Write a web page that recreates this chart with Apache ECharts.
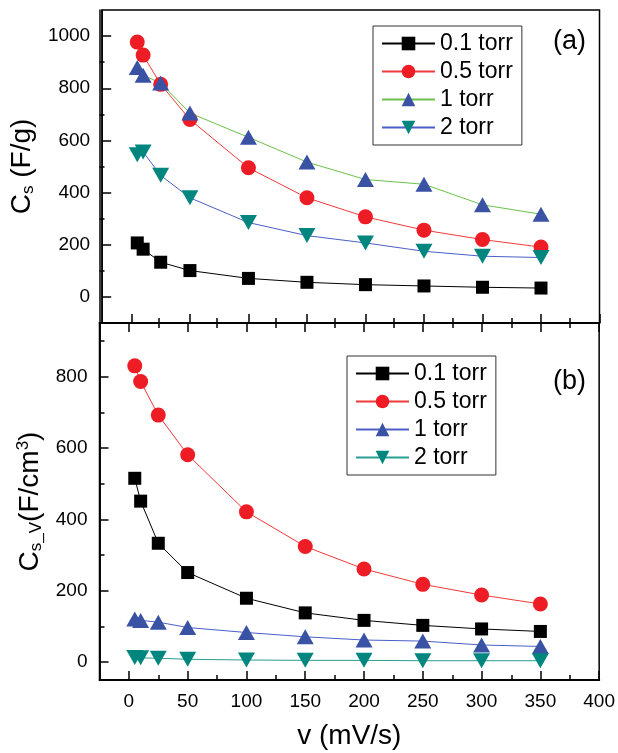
<!DOCTYPE html>
<html>
<head>
<meta charset="utf-8">
<script src="https://cdn.jsdelivr.net/npm/echarts@6/dist/echarts.min.js"></script>
<style>
body { margin: 0; background: #fff; }
#chart { width: 618px; height: 753px; }
</style>
</head>
<body>
<div id="chart"></div>
<script>
// scan rate (mV/s)
var rates = [5, 10, 25, 50, 100, 150, 200, 250, 300, 350];
// (a) gravimetric capacitance C_s (F/g)
var cs01 = [207, 183, 133, 101, 71, 56, 47, 42, 37, 34];
var cs05 = [977, 927, 815, 680, 495, 380, 307, 256, 220, 191];
var cs1 = [880, 850, 820, 705, 612, 517, 450, 432, 353, 317];
var cs2 = [545, 556, 466, 380, 285, 235, 207, 175, 156, 151];
// (b) volumetric capacitance C_s_V (F/cm3)
var cv01 = [515, 451, 333, 251, 179, 138, 117, 103, 93, 86];
var cv05 = [830, 786, 692, 581, 421, 324, 261, 218, 188, 163];
var cv1 = [121, 117, 112, 97, 83, 71, 62, 59, 48, 44];
var cv2 = [13, 12, 11, 8, 6, 5, 5, 4, 4, 4];

var names = ['0.1 torr', '0.5 torr', '1 torr', '2 torr'];
var xMajor = [0, 50, 100, 150, 200, 250, 300, 350, 400];
var xMinor = [25, 75, 125, 175, 225, 275, 325, 375];
var yaMajor = [0, 200, 400, 600, 800, 1000];
var yaMinor = [100, 300, 500, 700, 900];
var ybMajor = [0, 200, 400, 600, 800];
var ybMinor = [100, 300, 500, 700, 900];

var FONT = 'Liberation Sans, Arial, sans-serif';

function pairs(ys) {
  return rates.map(function (x, i) { return [x, ys[i]]; });
}

// one axis per side per grid; minor ticks live in twin grids on the same rect
function axis(grid, pos, min, max, ticks, len, labels, extra) {
  var ax = {
    type: 'value', gridIndex: grid, position: pos, min: min, max: max,
    axisLine: { show: true, onZero: false, lineStyle: { color: '#000', width: 1.5 } },
    axisTick: { show: true, inside: true, length: len, customValues: ticks,
      lineStyle: { color: '#000', width: 1.5 } },
    axisLabel: { show: labels, customValues: ticks, margin: 12,
      formatter: function (v) { return String(v); },
      color: '#000', fontSize: 19, fontFamily: FONT },
    splitLine: { show: false }
  };
  return Object.assign(ax, extra || {});
}

function line(name, data, xi, yi, symbol, size, fill, lineColor, rotate) {
  return {
    name: name, type: 'line', xAxisIndex: xi, yAxisIndex: yi,
    data: pairs(data), symbol: symbol, symbolSize: size, symbolRotate: rotate || 0,
    showAllSymbol: true,
    itemStyle: { color: fill, borderWidth: 0 },
    lineStyle: { color: lineColor, width: 1 },
    emphasis: { disabled: true }, animation: false
  };
}

var titleRich = {
  c: { fontSize: 28, fontFamily: FONT, color: '#000', lineHeight: 30 },
  s: { fontSize: 17, fontFamily: FONT, color: '#000', verticalAlign: 'bottom', lineHeight: 16 },
  p: { fontSize: 17, fontFamily: FONT, color: '#000', verticalAlign: 'top', lineHeight: 16 }
};

var legendBase = {
  orient: 'vertical', itemWidth: 53, itemHeight: 17, itemGap: 5,
  padding: [6, 9, 6, 8], borderColor: '#333', borderWidth: 1, backgroundColor: '#fff',
  textStyle: { fontSize: 23, fontFamily: FONT, color: '#000' },
  selectedMode: false
};

var gridA = { left: 99.5, top: 10, width: 500, height: 313 };
var gridB = { left: 99.5, top: 323, width: 500, height: 357 };

var chart = echarts.init(document.getElementById('chart'));
chart.setOption({
  backgroundColor: '#fff',
  animation: false,
  title: [
    { text: '(a)', left: 553, top: 28, padding: 0,
      textStyle: { fontSize: 27, fontWeight: 'normal', fontFamily: FONT, color: '#000' } },
    { text: '(b)', left: 553, top: 368, padding: 0,
      textStyle: { fontSize: 27, fontWeight: 'normal', fontFamily: FONT, color: '#000' } }
  ],
  grid: [
    Object.assign({ show: true, borderColor: '#000', borderWidth: 1.5 }, gridA),
    Object.assign({ show: true, borderColor: '#000', borderWidth: 1.5 }, gridB),
    Object.assign({}, gridA),
    Object.assign({}, gridB)
  ],
  legend: [
    Object.assign({ left: 373, top: 26, data: names }, legendBase),
    Object.assign({ left: 347, top: 356, data: names.map(function (n) { return n + '\u200b'; }) }, legendBase)
  ],
  xAxis: [
    axis(0, 'bottom', -25, 400, xMajor, 9, false),
    axis(1, 'bottom', -25, 400, xMajor, 9, true, {
      name: 'v (mV/s)', nameLocation: 'middle', nameGap: 42,
      nameTextStyle: { fontSize: 28, fontFamily: FONT, color: '#000' }
    }),
    axis(1, 'top', -25, 400, xMajor, 9, false),
    axis(2, 'bottom', -25, 400, xMinor, 5, false),
    axis(3, 'bottom', -25, 400, xMinor, 5, false),
    axis(3, 'top', -25, 400, xMinor, 5, false)
  ],
  yAxis: [
    axis(0, 'left', -100, 1100, yaMajor, 9, true, {
      name: '{c|C}{s|s}{c| (F/g)}', nameLocation: 'middle', nameGap: 50, nameRotate: 90,
      nameTextStyle: { rich: titleRich }
    }),
    axis(1, 'left', -50, 950, ybMajor, 9, true, {
      name: '{c|C}{s|s_V}{c|(F/cm}{p|3}{c|)}', nameLocation: 'middle', nameGap: 54, nameRotate: 90,
      nameTextStyle: { rich: titleRich }
    }),
    axis(2, 'left', -100, 1100, yaMinor, 5, false),
    axis(3, 'left', -50, 950, ybMinor, 5, false)
  ],
  series: [
    line(names[0], cs01, 0, 0, 'rect', 13, '#000', '#000'),
    line(names[1], cs05, 0, 0, 'circle', 15, '#ee1c25', '#f03a3a'),
    line(names[2], cs1, 0, 0, 'triangle', [17, 15], '#3a52a4', '#6cc04a'),
    line(names[3], cs2, 0, 0, 'triangle', [17, 15], '#00857f', '#4b5fc8', 180),
    line(names[0] + '\u200b', cv01, 1, 1, 'rect', 13, '#000', '#000'),
    line(names[1] + '\u200b', cv05, 1, 1, 'circle', 15, '#ee1c25', '#f03a3a'),
    line(names[2] + '\u200b', cv1, 1, 1, 'triangle', [17, 15], '#3a52a4', '#4b5fc8'),
    line(names[3] + '\u200b', cv2, 1, 1, 'triangle', [17, 15], '#00857f', '#2a9d92', 180)
  ]
});
</script>
</body>
</html>
